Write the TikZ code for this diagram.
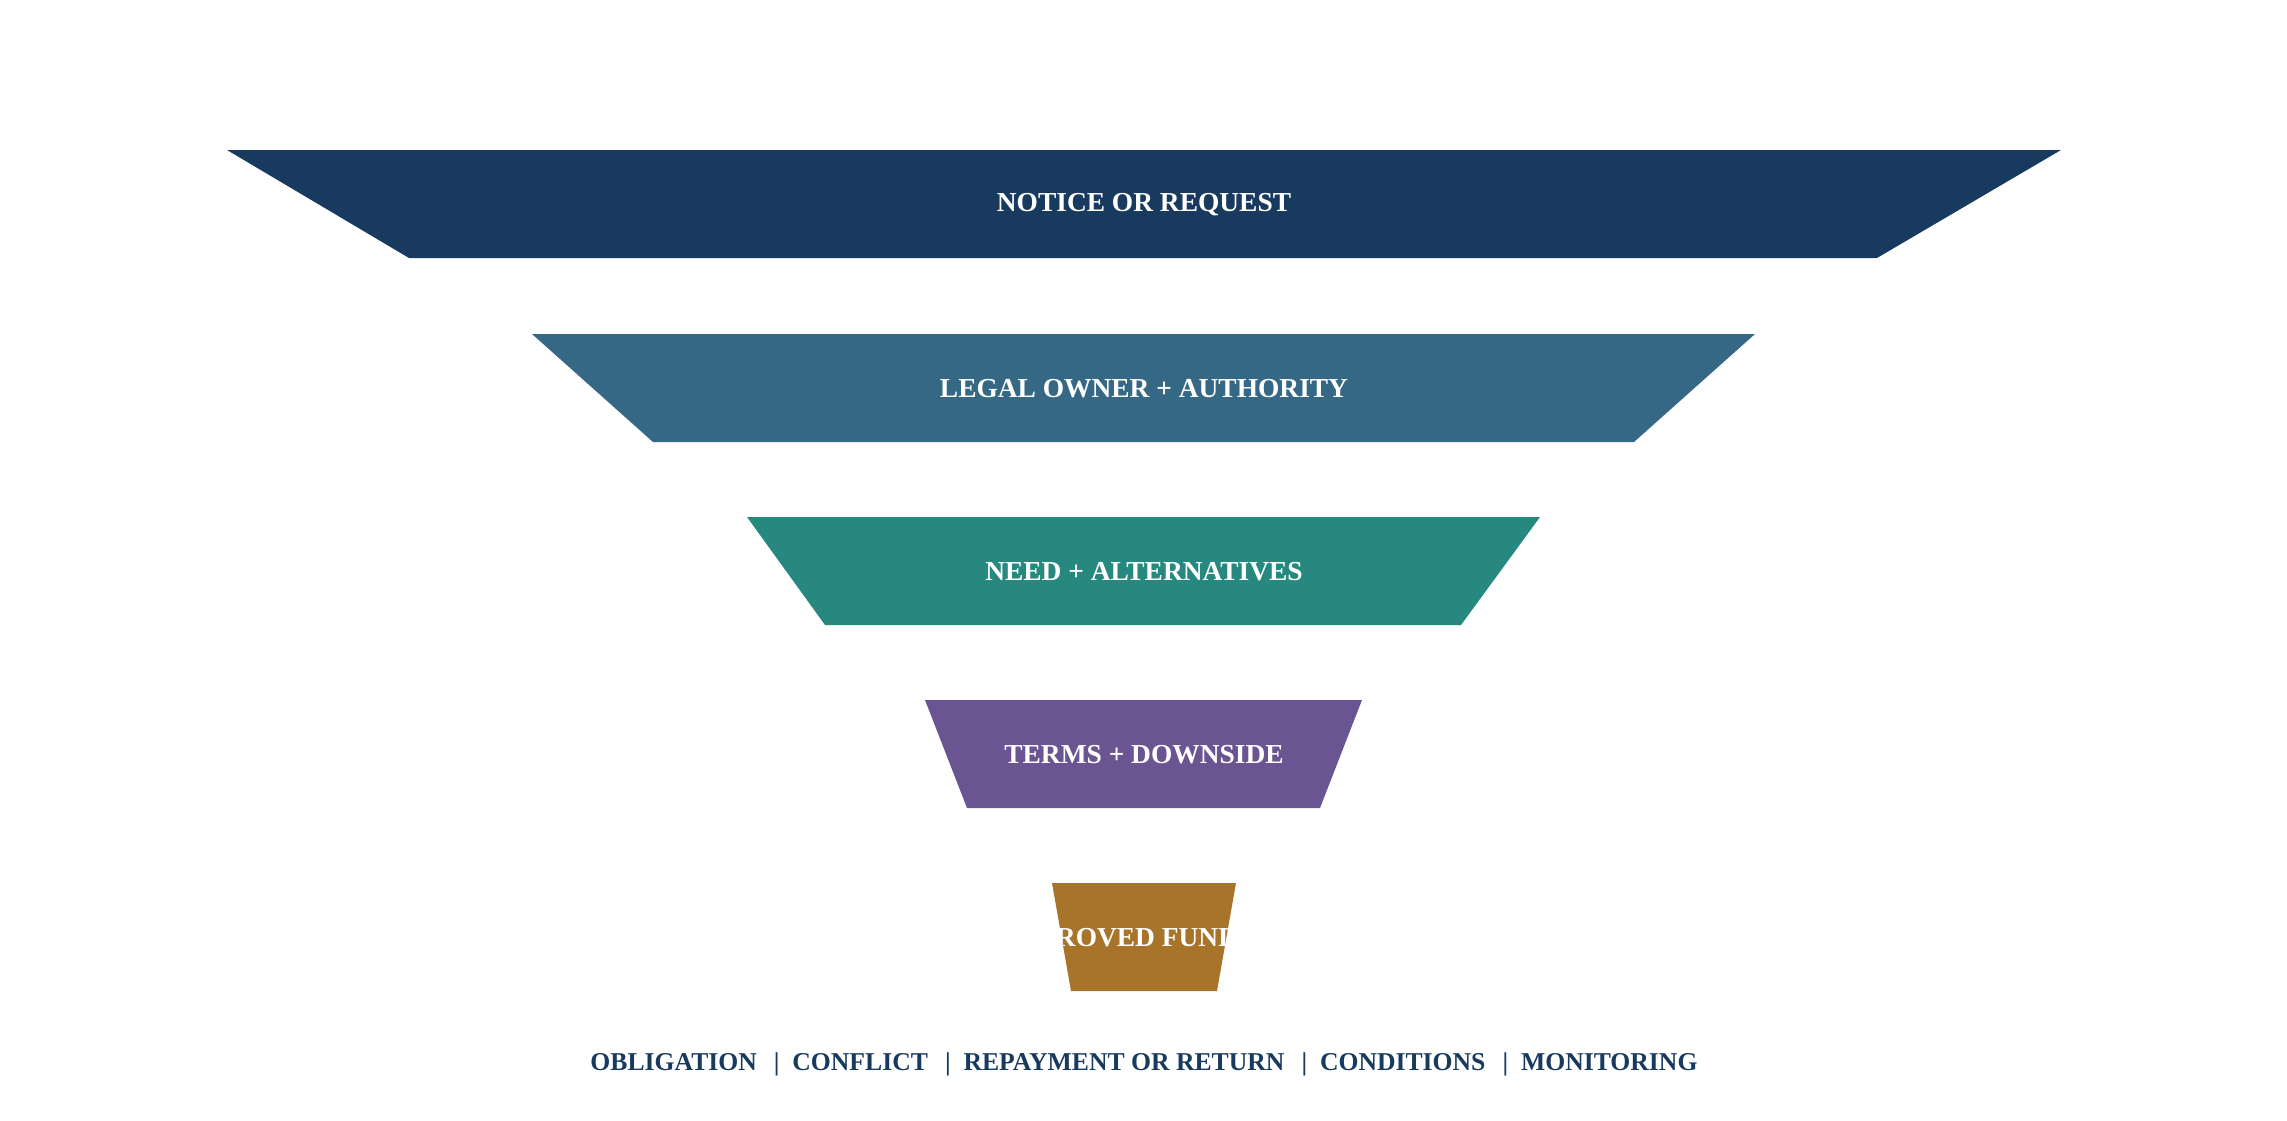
\documentclass[tikz,border=0pt]{standalone}
\usepackage{fontspec}
\setmainfont{Liberation Serif}
\usepackage{xcolor}
\usepackage{tikz}
\definecolor{navy}{HTML}{183A5F}
\definecolor{steel}{HTML}{346884}
\definecolor{teal}{HTML}{278880}
\definecolor{plum}{HTML}{6B5492}
\definecolor{ochre}{HTML}{A7742A}
\tikzset{
  layertext/.style={text=white, font=\bfseries\fontsize{7.8}{9}\selectfont},
  bottomtext/.style={text=navy, font=\bfseries\fontsize{7.3}{9}\selectfont}
}

\begin{document}
\begin{tikzpicture}[x=0.01cm, y=-0.01cm]
       \useasboundingbox (0,0) rectangle (2287,1121);
       %LAYER 1
       \fill[navy] (227,150) -- (2061,150) -- (1877,258) -- (409,258) -- cycle;
       \node[layertext] (notice) at (1144,205) {NOTICE OR REQUEST};
       %LAYER 2
       \fill[steel] (532,334) -- (1755,334) -- (1634,442) -- (653,442) -- cycle;
       \node[layertext] (owner) at (1144,389) {LEGAL OWNER + AUTHORITY};
       %LAYER 3
       \fill[teal] (747,517) -- (1540,517) -- (1461,625) -- (825,625) -- cycle;
       \node[layertext] (need) at (1144,572) {NEED + ALTERNATIVES};
       %LAYER 4
       \fill[plum] (925,700) -- (1362,700) -- (1320,808) -- (967,808) -- cycle;
       \node[layertext] (terms) at (1144,755) {TERMS + DOWNSIDE};
       %LAYER 5
       \fill[ochre] (1052,883) -- (1236,883) -- (1217,991) -- (1071,991) -- cycle;
       \node[layertext] (funds) at (1128,938) {APPROVED FUNDS};
       %BOTTOM LINE
       \node[bottomtext] (checks) at (1144,1064) {OBLIGATION \ \,|\ \ CONFLICT \ \,|\ \ REPAYMENT OR RETURN \ \,|\ \ CONDITIONS \ \,|\ \ MONITORING};
    \end{tikzpicture}
\end{document}
